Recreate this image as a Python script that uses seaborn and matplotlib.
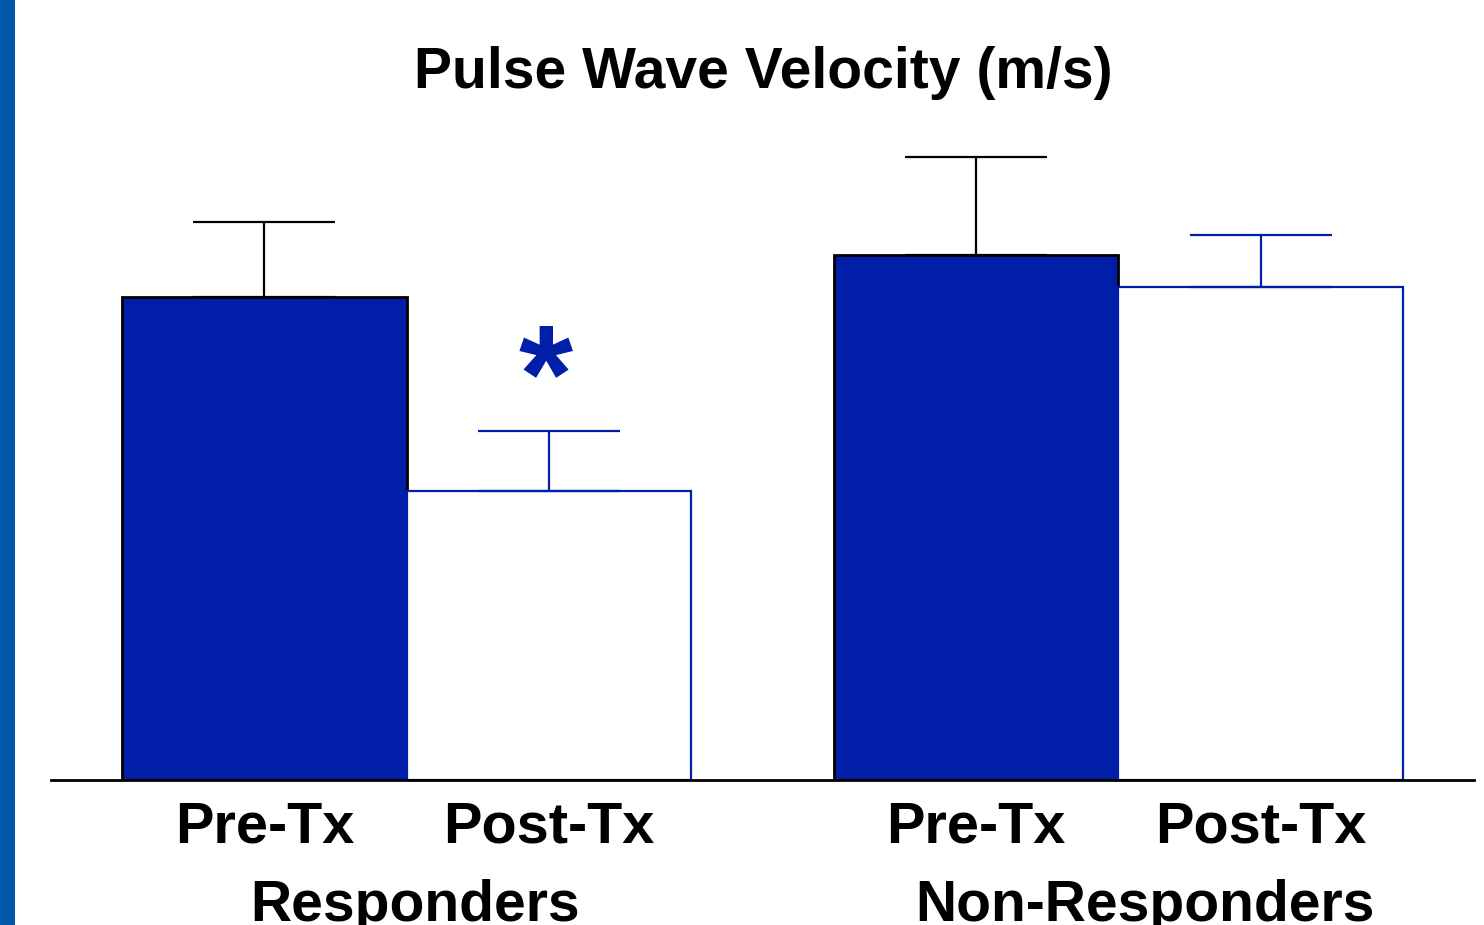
"""Pulse wave velocity before and after treatment, responders vs non-responders."""

import matplotlib

matplotlib.use("Agg")
import matplotlib.pyplot as plt
import numpy as np
import pandas as pd
import seaborn as sns
from matplotlib.patches import Rectangle

groups = ["Responders", "Responders", "Non-Responders", "Non-Responders"]
phases = ["Pre-Tx", "Post-Tx", "Pre-Tx", "Post-Tx"]
pwv = [9.7, 5.8, 10.55, 9.9]
pwv_err = [1.5, 1.2, 1.95, 1.05]

group_order = ["Responders", "Non-Responders"]
phase_order = ["Pre-Tx", "Post-Tx"]

DARK_BLUE = "#001EA8"
STRIP_BLUE = "#0057A8"

sns.set_theme(style="white")
plt.rcParams["font.family"] = ["Liberation Sans", "DejaVu Sans"]
plt.rcParams["text.color"] = "black"

df = pd.DataFrame({"Group": groups, "Phase": phases, "PWV": pwv, "Err": pwv_err})

fig = plt.figure(figsize=(14.84, 9.25), dpi=100)
ax = fig.add_axes([51 / 1484, 145 / 925, 1423 / 1484, 650 / 925])

sns.barplot(
    data=df, x="Group", y="PWV", hue="Phase",
    order=group_order, hue_order=phase_order,
    palette={"Pre-Tx": DARK_BLUE, "Post-Tx": "white"},
    saturation=1, errorbar=None, legend=False, width=0.8, ax=ax,
)

# style bars: pre filled with black edge, post white with blue edge
for bar_container, phase in zip(ax.containers, phase_order):
    for patch in bar_container:
        if phase == "Pre-Tx":
            patch.set_edgecolor("black")
            patch.set_linewidth(2.0)
        else:
            patch.set_edgecolor(DARK_BLUE)
            patch.set_linewidth(1.6)

# upper-only error bars
for bar_container, phase in zip(ax.containers, phase_order):
    sub = df[df["Phase"] == phase].set_index("Group").loc[group_order]
    xs = [p.get_x() + p.get_width() / 2 for p in bar_container]
    color = "black" if phase == "Pre-Tx" else DARK_BLUE
    ax.errorbar(
        xs, sub["PWV"], yerr=[np.zeros(len(xs)), sub["Err"]],
        fmt="none", ecolor=color, elinewidth=1.6, capsize=51, capthick=1.6,
        zorder=1,
    )

# significance marker over responders post-Tx
post_bar = ax.containers[1][0]
ax.text(
    post_bar.get_x() + post_bar.get_width() / 2 - 0.005,
    pwv[1] + pwv_err[1] - 0.37, "*",
    ha="center", va="bottom", fontsize=100, fontweight="bold", color=DARK_BLUE,
)

ax.set_xlim(-0.5, 1.5)
ax.set_ylim(0, 13.05)
ax.set_xticks([])
ax.set_yticks([])
ax.set_xlabel("")
ax.set_ylabel("")
for side in ["top", "right", "left"]:
    ax.spines[side].set_visible(False)
ax.spines["bottom"].set_color("black")
ax.spines["bottom"].set_linewidth(2.0)

# phase labels under each bar
for bar_container, phase in zip(ax.containers, phase_order):
    for patch in bar_container:
        ax.text(
            patch.get_x() + patch.get_width() / 2, -0.42, phase,
            ha="center", va="top", fontsize=41.5, fontweight="bold",
            clip_on=False,
        )

# group labels
ax.text(0.011, -1.98, "Responders", ha="center", va="top",
        fontsize=41, fontweight="bold", clip_on=False)
ax.text(1.038, -1.98, "Non-Responders", ha="center", va="top",
        fontsize=41, fontweight="bold", clip_on=False)

fig.text(763 / 1484, 1 - 88 / 925, "Pulse Wave Velocity (m/s)",
         ha="center", va="baseline", fontsize=41, fontweight="bold")

fig.patches.append(Rectangle((0, 0), 15 / 1484, 1, transform=fig.transFigure,
                             facecolor=STRIP_BLUE, edgecolor="none"))

fig.savefig("out.png", dpi=100)
plt.close(fig)
